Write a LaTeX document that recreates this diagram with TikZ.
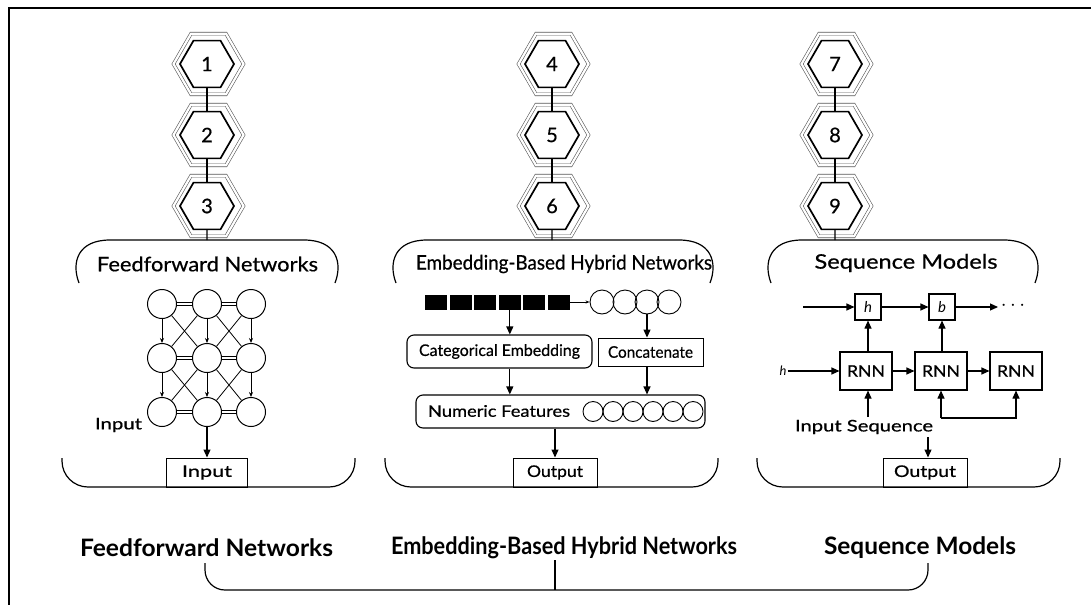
\documentclass[tikz,border=0pt]{standalone}
\usepackage{fontspec}
\usepackage{graphicx}
\usepackage{xfp}
\setmainfont{Lato}
\newfontfamily\medfont[FakeBold=0.6]{Lato}
\usetikzlibrary{shapes.geometric,arrows.meta,calc}

% set a piece of text stretched horizontally to a given width (in pt)
\newsavebox\fitbox
\newcommand\fitto[2]{\sbox\fitbox{#2}\scalebox{\fpeval{(#1)/(\wd\fitbox)}}[1]{\usebox\fitbox}}

\tikzset{
  hexin/.style={regular polygon, regular polygon sides=6, minimum size=54pt,
    inner sep=0pt, draw, line width=1.7pt, font=\fontsize{20}{20}\medfont},
  hexout/.style={regular polygon, regular polygon sides=6, minimum size=70pt,
    inner sep=0pt, draw=black!65, line width=0.6pt, double, double distance=2.2pt},
  link/.style={line width=1.1pt},
  capline/.style={line width=1.2pt},
  trayline/.style={line width=1.2pt, rounded corners=26pt},
  captxt/.style={font=\fontsize{20}{20}\medfont, inner sep=1pt},
  basetxt/.style={font=\fontsize{24}{24}\selectfont\bfseries, inner sep=1pt},
  txt/.style={font=\fontsize{16}{16}\medfont, inner sep=1pt},
  outbox/.style={draw, line width=1pt, minimum height=29pt, inner sep=0pt,
    font=\fontsize{16}{16}\medfont},
  neuron/.style={circle, draw, line width=1pt, minimum size=29pt, inner sep=0pt},
  dbl/.style={line width=0.7pt, double, double distance=2.2pt},
  thinlink/.style={line width=0.8pt},
  smallarr/.style={line width=0.8pt, -{Stealth[length=5pt,width=4pt]}},
  arr/.style={line width=1.1pt, -{Triangle[length=8pt,width=7pt]}},
  sqr/.style={fill=black, minimum width=22pt, minimum height=15pt, inner sep=0pt},
  bead/.style={circle, draw, line width=0.9pt, inner sep=0pt},
  procbox/.style={draw, line width=1.1pt, inner sep=0pt, font=\fontsize{16}{16}\medfont},
  statebox/.style={draw, line width=1.1pt, minimum size=26pt, inner sep=0pt,
    font=\fontsize{15}{15}\selectfont\itshape},
  rnn/.style={draw, line width=1.1pt, minimum width=52pt, minimum height=38pt,
    inner sep=0pt, font=\fontsize{16}{16}\medfont},
}

\begin{document}
\begin{tikzpicture}[x=1pt, y=-1pt]
\useasboundingbox (0,0) rectangle (1091,605);

% frame edges
\draw[line width=2pt] (1091,8) -- (9,8) -- (9,605);

% numbered hexagon chains above each family
\foreach \col/\x/\a/\b/\c in {1/207/1/2/3, 2/552/4/5/6, 3/835/7/8/9} {
  \node[hexout] (ho\col a) at (\x+1.5,64) {};
  \node[hexout] (ho\col b) at (\x+1.5,135) {};
  \node[hexout] (ho\col c) at (\x+1.5,206) {};
  \node[hexin] (hx\col a) at (\x,64) {\a};
  \node[hexin] (hx\col b) at (\x,135) {\b};
  \node[hexin] (hx\col c) at (\x,206) {\c};
  \draw[link] (hx\col a.south) -- (hx\col b.north);
  \draw[link] (hx\col b.south) -- (hx\col c.north);
}

% caps with titles
\coordinate (top1) at (207,240);
\coordinate (top2) at (552,240);
\coordinate (top3) at (835,240);
\draw[capline] (79,283) .. controls (71,262) and (78,240) .. (110,240) -- (304,240)
  .. controls (336,240) and (343,262) .. (335,283);
\draw[capline] (396,283) .. controls (388,262) and (395,240) .. (427,240) -- (679,240)
  .. controls (711,240) and (718,262) .. (710,283);
\draw[capline] (771,283) .. controls (763,262) and (770,240) .. (802,240) -- (1004,240)
  .. controls (1036,240) and (1043,262) .. (1035,283);
\draw[link] (hx1c.south) -- (top1);
\draw[link] (hx2c.south) -- (top2);
\draw[link] (hx3c.south) -- (top3);
\node[captxt] (cap1) at (207.5,264) {\fitto{221}{Feedforward Networks}};
\node[captxt] (cap2) at (564,264) {\fitto{296}{Embedding-Based Hybrid Networks}};
\node[captxt] (cap3) at (906,263) {\fitto{183}{Sequence Models}};

% trays with result boxes
\draw[trayline] (62,458) -- (62,487) -- (355,487) -- (355,458);
\draw[trayline] (385,458) -- (385,487) -- (718,487) -- (718,458);
\draw[trayline] (757,458) -- (757,487) -- (1060,487) -- (1060,458);
\node[outbox, minimum width=81pt] (res1) at (207,472.5) {\fitto{50}{Input}};
\node[outbox, minimum width=84pt] (res2) at (555,472.5) {\fitto{56}{Output}};
\node[outbox, minimum width=84pt] (res3) at (925,472.5) {\fitto{62}{Output}};

% ---- feedforward network ----
\foreach \r/\y in {1/304,2/358,3/412}
  \foreach \c/\x in {1/162,2/207,3/251}
    \node[neuron] (n\r\c) at (\x,\y) {};
\foreach \r in {1,2,3} {
  \draw[dbl] (n\r1) -- (n\r2);
  \draw[dbl] (n\r2) -- (n\r3);
}
\foreach \r/\s in {1/2,2/3} {
  \foreach \c in {1,2,3}
    \draw[smallarr] (n\r\c) -- (n\s\c);
  \draw[thinlink] (n\r1) -- (n\s2);
  \draw[thinlink] (n\r2) -- (n\s1);
  \draw[thinlink] (n\r2) -- (n\s3);
  \draw[thinlink] (n\r3) -- (n\s2);
}
\node[txt] (inlab) at (118.5,425) {\fitto{47}{Input}};
\draw[arr] (n32) -- (res1);

% ---- embedding-based hybrid network ----
\foreach \i in {1,...,6}
  \node[sqr] (sq\i) at ({436+(\i-1)*24.6},302) {};
\foreach \i/\x in {1/602,2/625,3/647,4/669}
  \node[bead, minimum size=24pt] (ci\i) at (\x,302) {};
\draw[line width=0.7pt, -{Stealth[length=4pt,width=3pt]}] (sq6) -- (ci1);
\node[procbox, rounded corners=7pt, minimum width=185pt, minimum height=33pt]
  (cat) at (499.5,351.5) {\fitto{161}{Categorical Embedding}};
\node[procbox, line width=0.9pt, minimum width=105pt, minimum height=28pt]
  (conc) at (650.5,352) {\fitto{85}{Concatenate}};
\node[procbox, rounded corners=7pt, minimum width=289pt, minimum height=33pt]
  (num) at (560.5,411.5) {};
\node[txt] (numlab) at (499,411) {\fitto{142}{Numeric Features}};
\foreach \i in {1,...,6}
  \node[bead, minimum size=20pt] (nf\i) at ({593+(\i-1)*20},411.5) {};
\draw[arr] (sq4) -- (sq4 |- cat.north);
\draw[arr] (ci3) -- (ci3 |- conc.north);
\draw[arr] (cat.south -| sq4) -- (sq4 |- num.north);
\draw[arr] (conc.south -| ci3) -- (ci3 |- num.north);
\draw[arr] (num.south -| res2) -- (res2.north);

% ---- sequence model ----
\node[statebox] (s1) at (868,307) {h};
\node[statebox] (s2) at (942,307) {b};
\coordinate (sin) at (803,307);
\coordinate (sout) at (998,307);
\node[font=\fontsize{20}{20}\selectfont, inner sep=0pt] (dots) at (1013,306) {$\cdots$};
\draw[arr] (sin) -- (s1);
\draw[arr] (s1) -- (s2);
\draw[arr] (s2) -- (sout);
\node[rnn] (r1) at (866,371) {\fitto{38}{RNN}};
\node[rnn] (r2) at (941,371) {\fitto{38}{RNN}};
\node[rnn] (r3) at (1016,371) {\fitto{38}{RNN}};
\node[txt, font=\fontsize{13}{13}\selectfont\itshape] (hin) at (783,371) {h};
\draw[arr] (hin) -- (r1);
\draw[arr] (r1) -- (r2);
\draw[arr] (r2) -- (r3);
\draw[arr] (r1.north -| s1) -- (s1);
\draw[arr] (r2.north -| s2) -- (s2);
\node[txt] (seqlab) at (864,427) {\fitto{138}{Input Sequence}};
\coordinate (q1) at (868,417);
\coordinate (q2) at (941,418);
\coordinate (q3) at (1016,418);
\draw[arr] (q1) -- (q1 |- r1.south);
\draw[arr] (q2) -- (r2.south);
\draw[arr] (q2) -- (q3) -- (r3.south);
\coordinate (qo) at (928,437);
\draw[arr] (qo) -- (qo |- res3.north);

% ---- family names and the brace joining them ----
\node[basetxt] (fam1) at (206.5,548) {\fitto{253}{Feedforward Networks}};
\node[basetxt] (fam2) at (564,548) {\fitto{346}{Embedding-Based Hybrid Networks}};
\node[basetxt] (fam3) at (920,548) {\fitto{192}{Sequence Models}};
\coordinate (jn) at (555,590);
\draw[trayline, rounded corners=20pt] (205,563) -- (205,590) -- (928,590) -- (928,563);
\draw[link] (fam2.south -| jn) -- (jn);
\end{tikzpicture}
\end{document}
